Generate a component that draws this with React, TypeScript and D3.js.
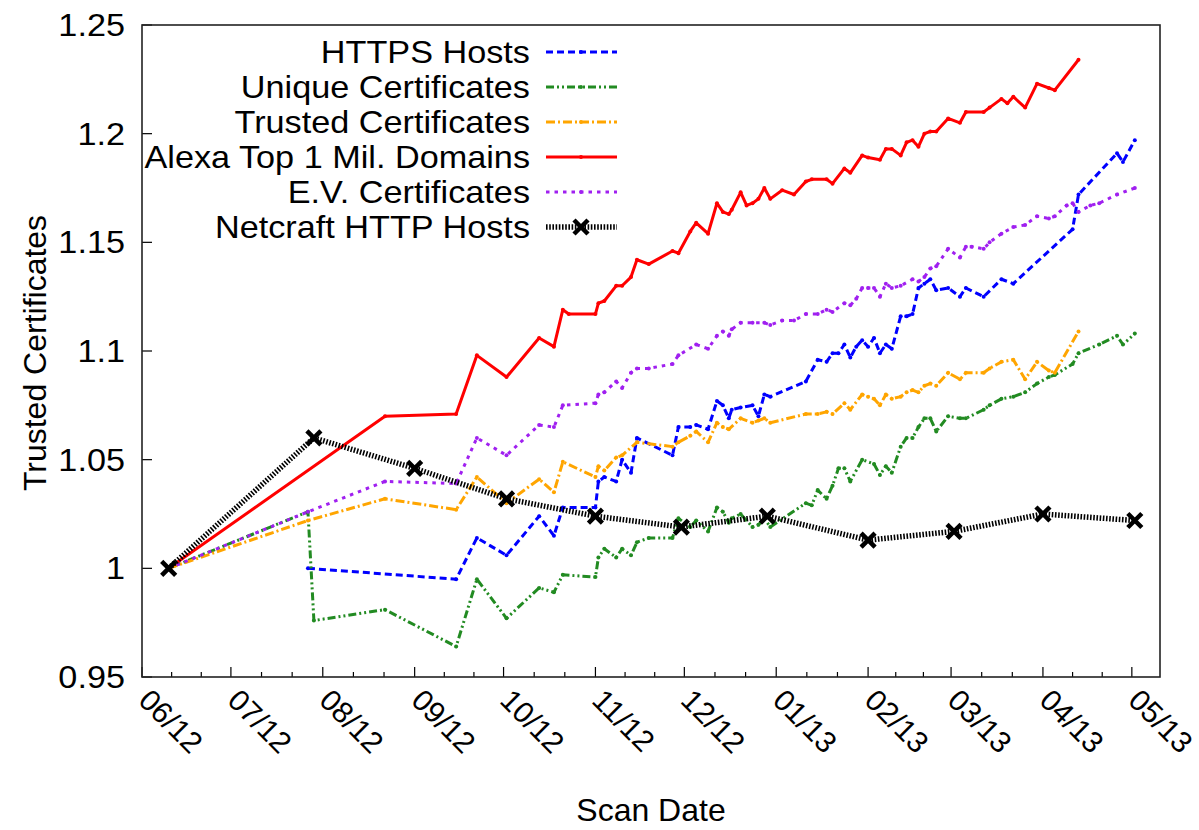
import React from 'react';
import * as d3 from 'd3';

type Pt = [string, number];

// scan results, normalised to the first scan
const httpsHosts: Pt[] = [
  ['2012-07-27', 1.0], ['2012-09-15', 0.995], ['2012-09-22', 1.014], ['2012-10-02', 1.006],
  ['2012-10-13', 1.024], ['2012-10-18', 1.015], ['2012-10-21', 1.028], ['2012-11-01', 1.028],
  ['2012-11-02', 1.04], ['2012-11-04', 1.042], ['2012-11-08', 1.04], ['2012-11-10', 1.05],
  ['2012-11-13', 1.044], ['2012-11-15', 1.06], ['2012-11-27', 1.052], ['2012-11-29', 1.065],
  ['2012-12-03', 1.065], ['2012-12-05', 1.066], ['2012-12-09', 1.064], ['2012-12-12', 1.077],
  ['2012-12-14', 1.075], ['2012-12-16', 1.069], ['2012-12-17', 1.073], ['2012-12-20', 1.074],
  ['2012-12-24', 1.075], ['2012-12-26', 1.07], ['2012-12-28', 1.08], ['2012-12-30', 1.079],
  ['2013-01-11', 1.086], ['2013-01-15', 1.096], ['2013-01-18', 1.095], ['2013-01-20', 1.099],
  ['2013-01-22', 1.099], ['2013-01-24', 1.103], ['2013-01-26', 1.097], ['2013-01-28', 1.102],
  ['2013-01-30', 1.105], ['2013-02-01', 1.102], ['2013-02-03', 1.106], ['2013-02-05', 1.099],
  ['2013-02-07', 1.103], ['2013-02-09', 1.101], ['2013-02-12', 1.116], ['2013-02-14', 1.116],
  ['2013-02-16', 1.117], ['2013-02-18', 1.129], ['2013-02-20', 1.131], ['2013-02-22', 1.133],
  ['2013-02-24', 1.128], ['2013-02-28', 1.129], ['2013-03-04', 1.125], ['2013-03-06', 1.129],
  ['2013-03-12', 1.125], ['2013-03-18', 1.133], ['2013-03-22', 1.131], ['2013-04-11', 1.156],
  ['2013-04-13', 1.172], ['2013-04-26', 1.191], ['2013-04-28', 1.187], ['2013-05-02', 1.197],
];

const uniqueCerts: Pt[] = [
  ['2012-06-10', 1.0], ['2012-07-27', 1.026], ['2012-07-29', 0.976], ['2012-08-22', 0.981],
  ['2012-09-15', 0.964], ['2012-09-22', 0.995], ['2012-10-02', 0.977], ['2012-10-13', 0.991],
  ['2012-10-18', 0.989], ['2012-10-21', 0.997], ['2012-11-01', 0.996], ['2012-11-02', 1.005],
  ['2012-11-04', 1.009], ['2012-11-08', 1.005], ['2012-11-10', 1.009], ['2012-11-13', 1.006],
  ['2012-11-15', 1.012], ['2012-11-19', 1.014], ['2012-11-27', 1.014], ['2012-11-29', 1.023],
  ['2012-12-03', 1.019], ['2012-12-05', 1.022], ['2012-12-09', 1.017], ['2012-12-12', 1.028],
  ['2012-12-14', 1.026], ['2012-12-16', 1.021], ['2012-12-17', 1.023], ['2012-12-20', 1.025],
  ['2012-12-24', 1.019], ['2012-12-26', 1.02], ['2012-12-28', 1.023], ['2012-12-30', 1.019],
  ['2013-01-11', 1.03], ['2013-01-13', 1.029], ['2013-01-15', 1.036], ['2013-01-18', 1.032],
  ['2013-01-20', 1.038], ['2013-01-22', 1.046], ['2013-01-24', 1.046], ['2013-01-26', 1.04],
  ['2013-01-30', 1.05], ['2013-02-03', 1.048], ['2013-02-05', 1.043], ['2013-02-07', 1.047],
  ['2013-02-09', 1.044], ['2013-02-12', 1.056], ['2013-02-14', 1.06], ['2013-02-16', 1.06],
  ['2013-02-18', 1.065], ['2013-02-20', 1.069], ['2013-02-22', 1.069], ['2013-02-24', 1.063],
  ['2013-02-28', 1.07], ['2013-03-04', 1.069], ['2013-03-06', 1.069], ['2013-03-12', 1.073],
  ['2013-03-14', 1.075], ['2013-03-18', 1.078], ['2013-03-22', 1.079], ['2013-03-26', 1.081],
  ['2013-03-30', 1.085], ['2013-04-03', 1.088], ['2013-04-05', 1.089], ['2013-04-11', 1.094],
  ['2013-04-13', 1.099], ['2013-04-20', 1.103], ['2013-04-26', 1.107], ['2013-04-28', 1.103],
  ['2013-05-02', 1.108],
];

const trustedCerts: Pt[] = [
  ['2012-06-10', 1.0], ['2012-07-27', 1.022], ['2012-08-22', 1.032], ['2012-09-15', 1.027],
  ['2012-09-22', 1.042], ['2012-10-02', 1.03], ['2012-10-13', 1.041], ['2012-10-18', 1.035],
  ['2012-10-21', 1.049], ['2012-11-01', 1.042], ['2012-11-02', 1.047], ['2012-11-04', 1.045],
  ['2012-11-08', 1.051], ['2012-11-10', 1.052], ['2012-11-15', 1.058], ['2012-11-27', 1.056],
  ['2012-11-29', 1.058], ['2012-12-03', 1.061], ['2012-12-05', 1.063], ['2012-12-09', 1.058],
  ['2012-12-12', 1.067], ['2012-12-14', 1.065], ['2012-12-16', 1.064], ['2012-12-20', 1.069],
  ['2012-12-24', 1.067], ['2012-12-26', 1.068], ['2012-12-28', 1.069], ['2012-12-30', 1.067],
  ['2013-01-11', 1.071], ['2013-01-15', 1.071], ['2013-01-18', 1.072], ['2013-01-20', 1.071],
  ['2013-01-24', 1.076], ['2013-01-26', 1.073], ['2013-01-30', 1.08], ['2013-02-01', 1.079],
  ['2013-02-03', 1.078], ['2013-02-05', 1.075], ['2013-02-07', 1.08], ['2013-02-09', 1.078],
  ['2013-02-12', 1.079], ['2013-02-14', 1.081], ['2013-02-16', 1.082], ['2013-02-18', 1.081],
  ['2013-02-20', 1.084], ['2013-02-22', 1.085], ['2013-02-24', 1.084], ['2013-02-28', 1.09],
  ['2013-03-04', 1.087], ['2013-03-06', 1.09], ['2013-03-12', 1.09], ['2013-03-14', 1.092],
  ['2013-03-18', 1.095], ['2013-03-22', 1.096], ['2013-03-26', 1.087], ['2013-03-30', 1.095],
  ['2013-04-03', 1.091], ['2013-04-05', 1.09], ['2013-04-13', 1.109],
];

const alexaTop1M: Pt[] = [
  ['2012-06-10', 1.0], ['2012-08-22', 1.07], ['2012-09-15', 1.071], ['2012-09-22', 1.098],
  ['2012-10-02', 1.088], ['2012-10-13', 1.106], ['2012-10-18', 1.102], ['2012-10-21', 1.119],
  ['2012-10-23', 1.117], ['2012-11-01', 1.117], ['2012-11-02', 1.122], ['2012-11-04', 1.123],
  ['2012-11-08', 1.13], ['2012-11-10', 1.13], ['2012-11-13', 1.134], ['2012-11-15', 1.142],
  ['2012-11-19', 1.14], ['2012-11-27', 1.146], ['2012-11-29', 1.145], ['2012-12-03', 1.155],
  ['2012-12-05', 1.159], ['2012-12-09', 1.154], ['2012-12-12', 1.168], ['2012-12-14', 1.164],
  ['2012-12-16', 1.163], ['2012-12-17', 1.165], ['2012-12-20', 1.173], ['2012-12-22', 1.167],
  ['2012-12-24', 1.168], ['2012-12-26', 1.17], ['2012-12-28', 1.175], ['2012-12-30', 1.17],
  ['2013-01-03', 1.174], ['2013-01-07', 1.172], ['2013-01-11', 1.178], ['2013-01-13', 1.179],
  ['2013-01-18', 1.179], ['2013-01-20', 1.177], ['2013-01-24', 1.184], ['2013-01-26', 1.182],
  ['2013-01-30', 1.19], ['2013-02-01', 1.189], ['2013-02-05', 1.188], ['2013-02-07', 1.193],
  ['2013-02-09', 1.193], ['2013-02-12', 1.19], ['2013-02-14', 1.196], ['2013-02-16', 1.197],
  ['2013-02-18', 1.194], ['2013-02-20', 1.2], ['2013-02-22', 1.201], ['2013-02-24', 1.201],
  ['2013-02-28', 1.207], ['2013-03-04', 1.205], ['2013-03-06', 1.21], ['2013-03-12', 1.21],
  ['2013-03-14', 1.212], ['2013-03-18', 1.216], ['2013-03-20', 1.214], ['2013-03-22', 1.217],
  ['2013-03-26', 1.212], ['2013-03-30', 1.223], ['2013-04-03', 1.221], ['2013-04-05', 1.22],
  ['2013-04-13', 1.234],
];

const evCerts: Pt[] = [
  ['2012-06-10', 1.0], ['2012-07-27', 1.026], ['2012-08-22', 1.04], ['2012-09-15', 1.039],
  ['2012-09-22', 1.06], ['2012-10-02', 1.052], ['2012-10-13', 1.066], ['2012-10-18', 1.065],
  ['2012-10-21', 1.075], ['2012-11-01', 1.076], ['2012-11-02', 1.08], ['2012-11-04', 1.081],
  ['2012-11-08', 1.086], ['2012-11-10', 1.083], ['2012-11-13', 1.09], ['2012-11-15', 1.092],
  ['2012-11-19', 1.092], ['2012-11-27', 1.094], ['2012-11-29', 1.098], ['2012-12-05', 1.103],
  ['2012-12-09', 1.101], ['2012-12-12', 1.107], ['2012-12-14', 1.109], ['2012-12-16', 1.107],
  ['2012-12-17', 1.11], ['2012-12-20', 1.113], ['2012-12-24', 1.113], ['2012-12-28', 1.113],
  ['2012-12-30', 1.112], ['2013-01-03', 1.114], ['2013-01-07', 1.114], ['2013-01-11', 1.117],
  ['2013-01-15', 1.117], ['2013-01-18', 1.119], ['2013-01-20', 1.118], ['2013-01-24', 1.122],
  ['2013-01-26', 1.121], ['2013-01-28', 1.124], ['2013-01-30', 1.129], ['2013-02-01', 1.129],
  ['2013-02-03', 1.129], ['2013-02-05', 1.125], ['2013-02-07', 1.131], ['2013-02-09', 1.129],
  ['2013-02-12', 1.13], ['2013-02-16', 1.133], ['2013-02-18', 1.132], ['2013-02-20', 1.134],
  ['2013-02-22', 1.138], ['2013-02-24', 1.139], ['2013-02-28', 1.147], ['2013-03-04', 1.143],
  ['2013-03-06', 1.148], ['2013-03-08', 1.148], ['2013-03-12', 1.147], ['2013-03-14', 1.15],
  ['2013-03-18', 1.154], ['2013-03-22', 1.157], ['2013-03-26', 1.158], ['2013-03-30', 1.162],
  ['2013-04-03', 1.161], ['2013-04-05', 1.162], ['2013-04-09', 1.167], ['2013-04-11', 1.168],
  ['2013-04-13', 1.164], ['2013-04-17', 1.167], ['2013-04-20', 1.168], ['2013-04-26', 1.172],
  ['2013-05-02', 1.175],
];

const netcraftHttpHosts: Pt[] = [
  ['2012-06-10', 1.0], ['2012-07-29', 1.06], ['2012-09-01', 1.046], ['2012-10-02', 1.032],
  ['2012-11-01', 1.024], ['2012-11-30', 1.019], ['2012-12-29', 1.024], ['2013-02-01', 1.013],
  ['2013-03-02', 1.017], ['2013-04-01', 1.025], ['2013-05-02', 1.022],
];

const seriesNames = [
  'HTTPS Hosts',
  'Unique Certificates',
  'Trusted Certificates',
  'Alexa Top 1 Mil. Domains',
  'E.V. Certificates',
  'Netcraft HTTP Hosts',
];
const yTicks = [0.95, 1, 1.05, 1.1, 1.15, 1.2, 1.25];
const yTickLabels = ['0.95', '1', '1.05', '1.1', '1.15', '1.2', '1.25'];
const xTitle = 'Scan Date';
const yTitle = 'Trusted Certificates';

const styles = [
  { color: '#0000ff', dash: '7 4', width: 3 },
  { color: '#228b22', dash: '8 3 2 3 2 3', width: 3 },
  { color: '#ffa500', dash: '9 3 2 3', width: 3 },
  { color: '#ff0000', dash: 'none', width: 3 },
  { color: '#a020f0', dash: '3.5 5', width: 3 },
  { color: '#000000', dash: '1.6 1.6', width: 5.5 },
];

const W = 1199;
const H = 830;
const plot = { left: 142, right: 1160, top: 25, bottom: 677 };
const font = "'Liberation Sans', Arial, Helvetica, sans-serif";
const stretch = 1.07; // the original font runs a bit wider than Liberation Sans

const parseDate = d3.utcParse('%Y-%m-%d');
const start = parseDate('2012-06-01') as Date;
const end = d3.utcHour.offset(parseDate('2013-05-10') as Date, 12);

const x = d3.scaleUtc().domain([start, end]).range([plot.left, plot.right]);
const y = d3.scaleLinear().domain([0.95, 1.25]).range([plot.bottom, plot.top]);

const line = d3
  .line<Pt>()
  .x(d => x(parseDate(d[0]) as Date))
  .y(d => y(d[1]));

// horizontal stretch around a right-hand anchor
const wide = (ax: number) => `translate(${ax},0) scale(${stretch},1) translate(${-ax},0)`;

const Cross = ({ cx, cy }: { cx: number; cy: number }) => (
  <path
    d={`M${cx - 7},${cy - 7}L${cx + 7},${cy + 7}M${cx - 7},${cy + 7}L${cx + 7},${cy - 7}`}
    stroke="#000"
    strokeWidth={4.5}
  />
);

const App = () => {
  const series = [httpsHosts, uniqueCerts, trustedCerts, alexaTop1M, evCerts, netcraftHttpHosts];

  const months = d3.utcMonth.range(start, end);
  const minor: Date[] = [];
  months.forEach(m => {
    const next = d3.utcMonth.offset(m, 1);
    [1, 2].forEach(k => {
      const t = new Date(+m + ((+next - +m) * k) / 3);
      if (t < end) minor.push(t);
    });
  });
  const fmt = d3.utcFormat('%m/%y');

  return (
    <svg
      width={W}
      height={H}
      style={{ position: 'absolute', left: 0, top: 0, background: '#fff' }}
      fontFamily={font}
    >
      <rect width={W} height={H} fill="#fff" />

      {/* series */}
      {series.map((data, i) => (
        <g key={seriesNames[i]}>
          <path
            d={line(data) ?? ''}
            fill="none"
            stroke={styles[i].color}
            strokeWidth={styles[i].width}
            strokeDasharray={styles[i].dash}
            strokeLinejoin="round"
          />
          {i < 5 &&
            data.map(d => (
              <circle
                key={d[0]}
                cx={x(parseDate(d[0]) as Date)}
                cy={y(d[1])}
                r={2}
                fill={styles[i].color}
              />
            ))}
          {i === 5 &&
            data.map(d => <Cross key={d[0]} cx={x(parseDate(d[0]) as Date)} cy={y(d[1])} />)}
        </g>
      ))}

      {/* legend */}
      {seriesNames.map((name, i) => {
        const ly = 52 + i * 35;
        return (
          <g key={name}>
            <text x={530} y={ly + 11} fontSize={32} textAnchor="end" fill="#000" transform={wide(530)}>
              {name}
            </text>
            <line
              x1={546}
              x2={617}
              y1={ly}
              y2={ly}
              stroke={styles[i].color}
              strokeWidth={styles[i].width}
              strokeDasharray={styles[i].dash}
            />
            {i < 5 ? <circle cx={581} cy={ly} r={2} fill={styles[i].color} /> : <Cross cx={581} cy={ly} />}
          </g>
        );
      })}

      {/* y axis ticks */}
      {yTicks.map((t, i) => (
        <g key={t}>
          <line x1={plot.left} x2={plot.left + 10} y1={y(t)} y2={y(t)} stroke="#000" strokeWidth={1.2} />
          <text x={125} y={y(t) + 11} fontSize={32} textAnchor="end" fill="#000" transform={wide(125)}>
            {yTickLabels[i]}
          </text>
        </g>
      ))}

      {/* x axis ticks */}
      {minor.map(t => (
        <line key={+t} x1={x(t)} x2={x(t)} y1={plot.bottom} y2={plot.bottom - 5} stroke="#000" strokeWidth={1.2} />
      ))}
      {months.map(m => (
        <g key={+m}>
          <line x1={x(m)} x2={x(m)} y1={plot.bottom} y2={plot.bottom - 10} stroke="#000" strokeWidth={1.2} />
          <text
            x={x(m) - 5}
            y={702}
            fontSize={30}
            fill="#000"
            transform={`rotate(45 ${x(m) - 5} 702)`}
          >
            {fmt(m)}
          </text>
        </g>
      ))}

      <rect
        x={plot.left}
        y={plot.top}
        width={plot.right - plot.left}
        height={plot.bottom - plot.top}
        fill="none"
        stroke="#222"
        strokeWidth={1.6}
      />

      <text x={651} y={821} fontSize={32} textAnchor="middle" fill="#000">
        {xTitle}
      </text>
      <text x={46} y={353} fontSize={32} textAnchor="middle" fill="#000" transform="rotate(-90 46 353)">
        {yTitle}
      </text>
    </svg>
  );
};

export default App;
